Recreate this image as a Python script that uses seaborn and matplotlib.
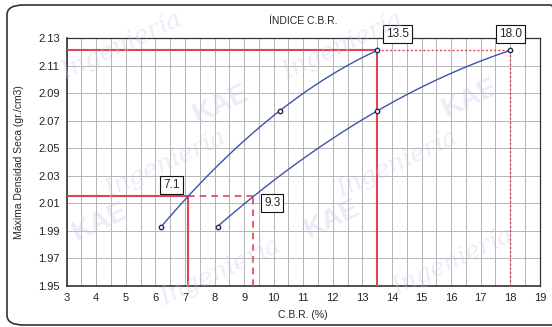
import numpy as np
import pandas as pd
import matplotlib
matplotlib.use("Agg")
import matplotlib.pyplot as plt
import seaborn as sns
from matplotlib.patches import FancyBboxPatch

# CBR vs dry density (two penetration curves)
cbr_curve_a = [6.2, 10.2, 13.5]
cbr_curve_b = [8.1, 13.5, 18.0]
dry_density = [1.993, 2.077, 2.121]

# reference densities and the CBR values read at them
max_density = 2.121
density_95 = 2.015
cbr_at_max = [13.5, 18.0]
cbr_at_95 = [7.1, 9.3]

x_ticks = list(range(3, 20))
y_ticks = [1.95, 1.97, 1.99, 2.01, 2.03, 2.05, 2.07, 2.09, 2.11, 2.13]

sns.set_style("white")
plt.rcParams["font.family"] = ["Liberation Sans", "DejaVu Sans"]

fig = plt.figure(figsize=(5.52, 3.27), dpi=100)
ax = fig.add_axes([0.1208, 0.1263, 0.8572, 0.7575])

# outer rounded frame
frame = FancyBboxPatch((7 / 552, 2 / 327), 560 / 552, 320 / 327,
                       boxstyle="round,pad=0,rounding_size=0.03",
                       transform=fig.transFigure, fc="none", ec="#333333",
                       lw=1.2, clip_on=False, zorder=0)
fig.patches.append(frame)

blue = "#3d55a8"
red = "#e04556"

df = pd.DataFrame({"cbr_a": cbr_curve_a, "cbr_b": cbr_curve_b, "dens": dry_density})
for col in ["cbr_a", "cbr_b"]:
    sns.regplot(data=df, x=col, y="dens", order=2, ci=None, scatter=False,
                truncate=True, ax=ax, line_kws=dict(color=blue, lw=1.0, zorder=4))
    sns.scatterplot(data=df, x=col, y="dens", ax=ax, marker="o", s=10,
                    facecolor="white", edgecolor="#1f2a5a", linewidth=1.0, zorder=5)

# red reference lines at maximum density
ax.plot([3, cbr_at_max[0]], [max_density, max_density], color=red, lw=1.5, zorder=3)
ax.plot([cbr_at_max[0], cbr_at_max[1]], [max_density, max_density], color=red, lw=1.0,
        ls=(0, (1.5, 1.5)), zorder=3)
ax.plot([cbr_at_max[0], cbr_at_max[0]], [1.95, max_density], color=red, lw=1.5, zorder=3)
ax.plot([cbr_at_max[1], cbr_at_max[1]], [1.95, max_density], color=red, lw=1.0,
        ls=(0, (1.5, 1.5)), zorder=3)

# red reference lines at 95% density
ax.plot([3, cbr_at_95[0]], [density_95, density_95], color=red, lw=1.5, zorder=3)
ax.plot([cbr_at_95[0], cbr_at_95[1]], [density_95, density_95], color=red, lw=1.2,
        ls=(0, (4, 3)), zorder=3)
ax.plot([cbr_at_95[0], cbr_at_95[0]], [1.95, density_95], color=red, lw=1.5, zorder=3)
ax.plot([cbr_at_95[1], cbr_at_95[1]], [1.95, density_95], color=red, lw=1.2,
        ls=(0, (4, 3)), zorder=3)

box = dict(boxstyle="square,pad=0.25", fc="white", ec="#111111", lw=0.8)
label_kw = dict(fontsize=8.5, ha="center", va="center", bbox=box, zorder=6, clip_on=False)
ax.text(cbr_at_95[0] - 0.55, density_95 + 0.0085, f"{cbr_at_95[0]:.1f}", **label_kw)
ax.text(cbr_at_95[1] + 0.65, density_95 - 0.005, f"{cbr_at_95[1]:.1f}", **label_kw)
ax.text(cbr_at_max[0] + 0.68, max_density + 0.0117, f"{cbr_at_max[0]:.1f}", **label_kw)
ax.text(cbr_at_max[1], max_density + 0.012, f"{cbr_at_max[1]:.1f}", **label_kw)

ax.set_xlim(3, 19)
ax.set_ylim(1.95, 2.13)
ax.set_xticks(x_ticks)
ax.set_xticklabels([str(t) for t in x_ticks])
ax.set_xticks(np.arange(3.5, 19, 1.0), minor=True)
ax.set_yticks(y_ticks)
ax.set_yticklabels([f"{t:.2f}" for t in y_ticks])
ax.grid(True, which="major", color="#b5b5b5", lw=0.7)
ax.grid(True, which="minor", axis="x", color="#b5b5b5", lw=0.7)
ax.set_axisbelow(True)
ax.tick_params(axis="both", which="major", labelsize=8, length=3, width=0.8,
               direction="out", colors="#222222", pad=2)
ax.tick_params(axis="both", which="minor", length=0)
for s in ax.spines.values():
    s.set_color("#333333")
    s.set_linewidth(0.9)
ax.spines["left"].set_linewidth(1.2)
ax.spines["bottom"].set_linewidth(1.2)

ax.set_xlabel("C.B.R. (%)", fontsize=7.5, labelpad=5)
ax.set_ylabel("Máxima Densidad Seca (gr./cm3)", fontsize=7.5, labelpad=10)
ax.set_title("ÍNDICE C.B.R.", fontsize=7.5, pad=10)

# faint watermark
wm_color = "#c8c8ec"
for (fx, fy) in [(0.22, 0.86), (0.62, 0.86), (0.3, 0.5), (0.72, 0.5), (0.4, 0.17), (0.82, 0.2)]:
    fig.text(fx, fy, "Ingeniería", fontsize=18, family="DejaVu Serif", style="italic",
             color=wm_color, alpha=0.35, rotation=25, ha="center", va="center", zorder=10)
for (fx, fy) in [(0.4, 0.68), (0.85, 0.7), (0.18, 0.32), (0.6, 0.33)]:
    fig.text(fx, fy, "KAE", fontsize=20, weight="bold", color=wm_color, alpha=0.35,
             rotation=25, ha="center", va="center", zorder=10)

fig.savefig("out.png", dpi=100)
